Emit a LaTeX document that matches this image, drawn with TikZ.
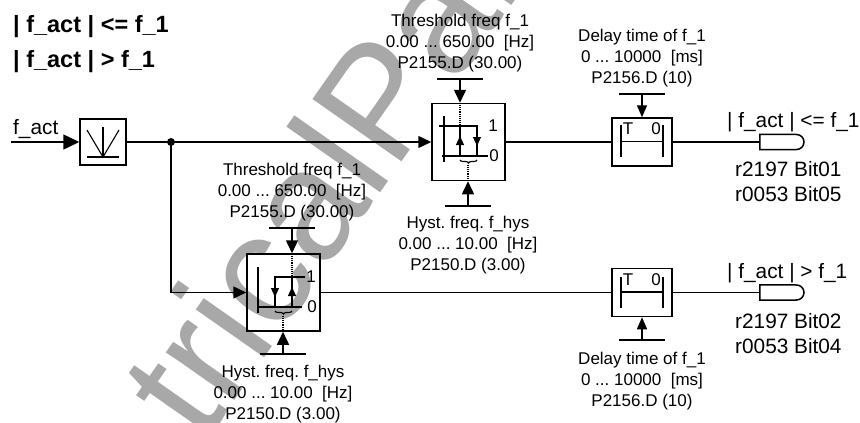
\documentclass[tikz,border=0pt]{standalone}
\usepackage{fontspec}
\setmainfont{Liberation Sans}
\usetikzlibrary{arrows.meta, positioning, calc, decorations.pathreplacing, backgrounds}
\definecolor{markgray}{RGB}{168,168,168}

\begin{document}
\frenchspacing
\begin{tikzpicture}[
    x=1pt, y=-1pt,
    node distance=1pt,
    box/.style={draw, line width=1.5pt, minimum width=73pt, minimum height=77pt, inner sep=0pt},
    delaybox/.style={draw, line width=1.5pt, minimum width=60pt, minimum height=48pt, inner sep=0pt},
    absbox/.style={draw, line width=1.5pt, minimum width=46pt, minimum height=46pt, inner sep=0pt},
    outpin/.style={minimum width=44pt, minimum height=15pt, inner sep=0pt},
    param/.style={font=\fontsize{17}{21}\selectfont, align=center, inner sep=0pt},
    large/.style={font=\fontsize{20.8}{25.5}\selectfont, align=left, inner sep=0pt},
    title/.style={font=\fontsize{23.5}{27}\selectfont\bfseries, anchor=west, inner sep=0pt},
    signal/.style={line width=1.5pt},
    connector/.style={-{Triangle[length=13pt,width=12pt]}, line width=1.5pt},
    delaytip/.style={-{Triangle[length=12pt,width=10pt]}, line width=1.5pt},
    thinline/.style={line width=1.1pt},
    smalltip/.style={-{Triangle[length=9pt,width=8pt]}, line width=1.1pt},
]

\useasboundingbox (0,0) rectangle (860,423);

% Watermark
\begin{scope}[on background layer]
\clip (0,0) rectangle (860,423);
\node[font=\fontsize{158}{158}\selectfont, markgray, rotate=55, inner sep=0pt, anchor=base west] (mark) at (203,446) {tricalPar};
\end{scope}

% Titles
\node[title] (t1) at (13,27) {| f\_act | <= f\_1};
\node[title] (t2) at (13,62) {| f\_act | > f\_1};

% Absolute value block
\node[absbox] (abs) at (103,142) {};
\coordinate (absin) at (11,142);
\node[large, anchor=south west] (fact) at (13,139) {f\_act};
\draw[-{Triangle[length=16pt,width=15pt]}, line width=1.5pt] (absin) -- (abs);
\draw[thinline] (87,130) -- (103,157) -- (119,130);
\draw[thinline] (103,127) -- (103,157);
\draw[thinline] (87,157) -- (119,157);

% Comparators
\node[box] (comp1) at (468.5,142) {};
\node[box] (comp2) at (283.5,292.5) {};

% Delay blocks
\node[delaybox] (delay1) at (642,142) {};
\node[delaybox] (delay2) at (642,292.5) {};

% Output pins
\node[outpin] (pin1) at (782,142) {};
\node[outpin] (pin2) at (782,292.5) {};
\draw[signal] (pin1.north west) -- (796.5,134.5) arc (-90:90:7.5) -- (pin1.south west) -- cycle;
\draw[signal] (pin2.north west) -- (796.5,285) arc (-90:90:7.5) -- (pin2.south west) -- cycle;

% Branch
\coordinate (branch) at (171,142);
\fill (branch) circle (4pt);
\draw[signal] (abs) -- (branch);
\draw[connector] (branch) -- (comp1);
\draw[connector] (branch) |- (comp2);
\draw[signal] (comp1) -- (delay1);
\draw[signal] (comp2) -- (delay2);
\draw[signal] (delay1) -- (pin1.west);
\draw[signal] (delay2) -- (pin2.west);

% Upper comparator
\coordinate (c1top) at (460,79);
\coordinate (c1bot) at (468,206);
\draw[signal] ($(c1top)+(-23,0)$) -- ($(c1top)+(23,0)$);
\draw[connector] (c1top) -- (c1top |- comp1.north);
\draw[connector] (c1bot) -- (c1bot |- comp1.south);
\draw[signal] ($(c1bot)+(-23,0)$) -- ($(c1bot)+(23,0)$);
\draw[densely dotted, thinline] (460,103) -- (460,155);
\draw[densely dotted, thinline] (468,165) -- (468,179);
\draw[thinline] (444,116) -- (444,162);
\draw[thinline] (439,126) -- (477,126) -- (477,156);
\draw[thinline] (442,156) -- (488,156);
\draw[line width=1.5pt] (460,126) -- (460,156) -- (477,156);
\draw[smalltip] (460,156) -- (460,136);
\draw[smalltip] (477,126) -- (477,146);
\draw[decorate, decoration={brace, mirror, amplitude=3pt}, thinline] (460,160) -- (477,160);
\node[param] (one1) at (493,126) {1};
\node[param] (zero1) at (494,156) {0};

% Lower comparator
\coordinate (c2top) at (292,228);
\coordinate (c2bot) at (283,354);
\draw[signal] ($(c2top)+(-23,0)$) -- ($(c2top)+(23,0)$);
\draw[connector] (c2top) -- (c2top |- comp2.north);
\draw[connector] (c2bot) -- (c2bot |- comp2.south);
\draw[signal] ($(c2bot)+(-23,0)$) -- ($(c2bot)+(23,0)$);
\draw[densely dotted, thinline] (292,254) -- (292,307);
\draw[densely dotted, thinline] (283,316) -- (283,330);
\draw[thinline] (258,267) -- (258,313);
\draw[thinline] (305,277) -- (275,277) -- (275,307);
\draw[thinline] (257,307) -- (302,307);
\draw[line width=1.5pt] (292,277) -- (292,307) -- (275,307);
\draw[smalltip] (275,277) -- (275,297);
\draw[smalltip] (292,307) -- (292,287);
\draw[decorate, decoration={brace, mirror, amplitude=3pt}, thinline] (275,311) -- (292,311);
\node[param] (one2) at (311,277) {1};
\node[param] (zero2) at (312,307) {0};

% Delay internals
\draw[thinline] (621,125) -- (621,157);
\draw[thinline] (663,125) -- (663,157);
\draw[thinline] (621,141.5) -- (663,141.5);
\node[param] (tt1) at (628,129) {T};
\node[param] (tz1) at (656,129) {0};
\draw[thinline] (621,277) -- (621,308);
\draw[thinline] (663,277) -- (663,308);
\draw[thinline] (621,292) -- (663,292);
\node[param] (tt2) at (628,280) {T};
\node[param] (tz2) at (656,280) {0};

% Delay time arrows
\coordinate (d1top) at (642,94);
\coordinate (d2bot) at (642,340);
\draw[signal] ($(d1top)+(-23,0)$) -- ($(d1top)+(23,0)$);
\draw[delaytip] (d1top) -- (delay1.north);
\draw[signal] ($(d2bot)+(-23,0)$) -- ($(d2bot)+(23,0)$);
\draw[delaytip] (d2bot) -- (delay2.south);

% Parameter texts
\node[param] (thr1) at (460,43) {Threshold freq f\_1\\0.00 ... 650.00~~[Hz]\\P2155.D (30.00)};
\node[param] (hys1) at (468,245) {Hyst. freq. f\_hys\\0.00 ... 10.00~~[Hz]\\P2150.D (3.00)};
\node[param] (thr2) at (292,192) {Threshold freq f\_1\\0.00 ... 650.00~~[Hz]\\P2155.D (30.00)};
\node[param] (hys2) at (283,394) {Hyst. freq. f\_hys\\0.00 ... 10.00~~[Hz]\\P2150.D (3.00)};
\node[param] (del1) at (642,58) {Delay time of f\_1\\0 ... 10000~~[ms]\\P2156.D (10)};
\node[param] (del2) at (642,381) {Delay time of f\_1\\0 ... 10000~~[ms]\\P2156.D (10)};

% Outputs
\node[large, anchor=south west] (out1) at (727,132) {| f\_act | <= f\_1};
\node[large, anchor=south west] (out2) at (727,283) {| f\_act | > f\_1};
\node[large, anchor=north west] (bit1) at (735,161) {r2197 Bit01\\r0053 Bit05};
\node[large, anchor=north west] (bit2) at (735,313) {r2197 Bit02\\r0053 Bit04};

\end{tikzpicture}
\end{document}
